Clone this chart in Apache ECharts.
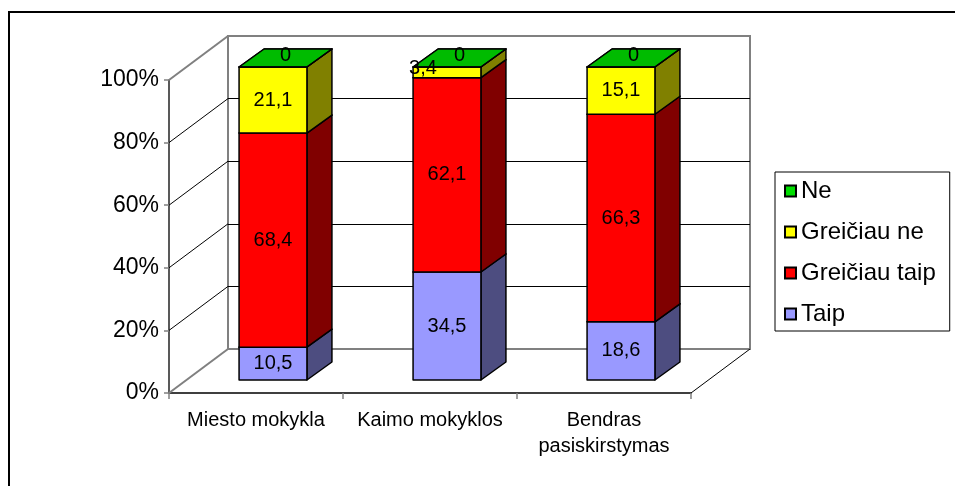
<!DOCTYPE html>
<html>
<head>
<meta charset="utf-8">
<script src="https://cdn.jsdelivr.net/npm/echarts@6/dist/echarts.min.js"></script>
<style>
  html, body { margin: 0; padding: 0; background: #fff; }
  #chart { width: 955px; height: 486px; }
</style>
</head>
<body>
<div id="chart"></div>
<script>
// data (percent of answers per group)
var categories = ['Miesto mokykla', 'Kaimo mokyklos', 'Bendras\npasiskirstymas'];
var taip = [10.5, 34.5, 18.6];
var greiciauTaip = [68.4, 62.1, 66.3];
var greiciauNe = [21.1, 3.4, 15.1];
var ne = [0, 0, 0];
var yTicks = [0, 20, 40, 60, 80, 100];

var FONT = '"Liberation Sans", Arial, sans-serif';

// 3d look: wall depth, bar depth, bar width share of a category
var WALL_DX = 59, WALL_DY = 44;
var BAR_DX = 25, BAR_DY = 18;
var SHIFT_X = (WALL_DX - BAR_DX) / 2, SHIFT_Y = (WALL_DY - BAR_DY) / 2;
var BAR_FRAC = 0.39;

var SEG = [
  { name: 'Taip', values: taip, front: '#9999FF', side: '#4D4D80', top: '#8080E0' },
  { name: 'Greičiau taip', values: greiciauTaip, front: '#FF0000', side: '#800000', top: '#D00000' },
  { name: 'Greičiau ne', values: greiciauNe, front: '#FFFF00', side: '#808000', top: '#D0D000' },
  { name: 'Ne', values: ne, front: '#00DD00', side: '#006600', top: '#00BB00' }
];

function fmt(v) {
  return String(v).replace('.', ',');
}

function barRenderer(seg) {
  return function (params, api) {
    var idx = api.value(0), base = api.value(1), val = api.value(2);
    var p0 = api.coord([idx, base]);
    var p1 = api.coord([idx, base + val]);
    var w = api.size([1, 0])[0] * BAR_FRAC;
    var x0 = p0[0] + SHIFT_X - w / 2, x1 = x0 + w;
    var yb = p0[1] - SHIFT_Y, yt = p1[1] - SHIFT_Y;
    var stroke = { stroke: '#000', lineWidth: 1.5, lineJoin: 'round' };
    var lx = x0 + w / 2, ly = (yt + yb) / 2;
    if (val === 0) {
      lx += BAR_DX / 2;
      ly = yt - BAR_DY / 2 - 3;
    } else if (val < 5) {
      lx -= 24;
      ly -= 4;
    }
    return {
      type: 'group',
      children: [
        {
          type: 'polygon',
          shape: { points: [[x0, yt], [x0 + BAR_DX, yt - BAR_DY], [x1 + BAR_DX, yt - BAR_DY], [x1, yt]] },
          style: Object.assign({ fill: seg.top }, stroke)
        },
        {
          type: 'polygon',
          shape: { points: [[x1, yb], [x1 + BAR_DX, yb - BAR_DY], [x1 + BAR_DX, yt - BAR_DY], [x1, yt]] },
          style: Object.assign({ fill: seg.side }, stroke)
        },
        {
          type: 'rect',
          shape: { x: x0, y: yt, width: w, height: yb - yt },
          style: Object.assign({ fill: seg.front }, stroke)
        },
        {
          type: 'text',
          z2: 10,
          style: {
            text: fmt(val), x: lx, y: ly, align: 'center', verticalAlign: 'middle',
            fontSize: 20, fontFamily: FONT, fill: '#000'
          }
        }
      ]
    };
  };
}

var barSeries = [];
var cum = categories.map(function () { return 0; });
SEG.forEach(function (seg) {
  var data = seg.values.map(function (v, i) {
    var d = [i, cum[i], v];
    cum[i] += v;
    return d;
  });
  barSeries.push({
    type: 'custom',
    name: seg.name,
    xAxisIndex: 0,
    yAxisIndex: 0,
    clip: false,
    silent: true,
    itemStyle: { color: seg.front, borderColor: '#000', borderWidth: 1 },
    encode: { x: 0, y: 1 },
    renderItem: barRenderer(seg),
    data: data
  });
});

// side wall + floor diagonals
var diagSeries = {
  type: 'custom',
  name: 'walls',
  xAxisIndex: 0,
  yAxisIndex: 0,
  clip: false,
  silent: true,
  encode: { x: 0, y: 1 },
  renderItem: function (params, api) {
    var cs = params.coordSys;
    var v = api.value(1);
    var y = api.coord([0, v])[1];
    var edge = (v === 0 || v === 100);
    var children = [{
      type: 'line',
      shape: { x1: cs.x, y1: y, x2: cs.x + WALL_DX, y2: y - WALL_DY },
      style: { stroke: edge ? '#808080' : '#000', lineWidth: edge ? 2 : 1 }
    }];
    if (v === 0) {
      children.push({
        type: 'line',
        shape: { x1: cs.x + cs.width, y1: y, x2: cs.x + cs.width + WALL_DX, y2: y - WALL_DY },
        style: { stroke: '#000', lineWidth: 1 }
      });
    }
    return { type: 'group', children: children };
  },
  data: yTicks.map(function (v) { return [0, v]; })
};

var chart = echarts.init(document.getElementById('chart'), null, { renderer: 'canvas' });
chart.setOption({
  backgroundColor: '#fff',
  animation: false,
  textStyle: { fontFamily: FONT },
  graphic: [{
    type: 'rect',
    shape: { x: 9, y: 12, width: 1000, height: 500 },
    style: { fill: 'none', stroke: '#000', lineWidth: 2 },
    z: -10
  }],
  grid: [
    { left: 169, top: 80, width: 522, height: 313 },
    {
      left: 169 + WALL_DX, top: 80 - WALL_DY, width: 522, height: 313,
      show: true, borderColor: '#808080', borderWidth: 2, backgroundColor: 'transparent'
    }
  ],
  legend: {
    orient: 'vertical',
    left: 775,
    top: 172,
    padding: [6, 14, 4, 9],
    itemGap: 15,
    itemWidth: 11,
    itemHeight: 11,
    borderColor: '#000',
    borderWidth: 1,
    backgroundColor: '#fff',
    textStyle: { fontSize: 24, lineHeight: 26, color: '#000', fontFamily: FONT },
    data: ['Ne', 'Greičiau ne', 'Greičiau taip', 'Taip'].map(function (n) {
      return { name: n, icon: 'rect' };
    })
  },
  xAxis: [
    {
      type: 'category',
      gridIndex: 0,
      data: categories,
      boundaryGap: true,
      axisLine: { lineStyle: { color: '#000', width: 1.5 } },
      axisTick: { show: true, interval: 0, length: 6, lineStyle: { color: '#808080', width: 1.5 } },
      axisLabel: { interval: 0, fontSize: 20, lineHeight: 26, margin: 14, color: '#000', fontFamily: FONT },
      splitLine: { show: false }
    },
    {
      type: 'category',
      gridIndex: 1,
      data: categories,
      show: false
    }
  ],
  yAxis: [
    {
      type: 'value',
      gridIndex: 0,
      min: 0,
      max: 100,
      interval: 20,
      axisLine: { show: true, lineStyle: { color: '#222', width: 1.5 } },
      axisTick: { show: true, length: 5, lineStyle: { color: '#808080', width: 1.5 } },
      axisLabel: { formatter: '{value}%', fontSize: 23, margin: 10, color: '#000', fontFamily: FONT },
      splitLine: { show: false }
    },
    {
      type: 'value',
      gridIndex: 1,
      min: 0,
      max: 100,
      interval: 20,
      axisLine: { show: false },
      axisTick: { show: false },
      axisLabel: { show: false },
      splitLine: { show: true, showMinLine: false, showMaxLine: false, lineStyle: { color: '#000', width: 1 } }
    }
  ],
  series: [diagSeries].concat(barSeries)
});
</script>
</body>
</html>
